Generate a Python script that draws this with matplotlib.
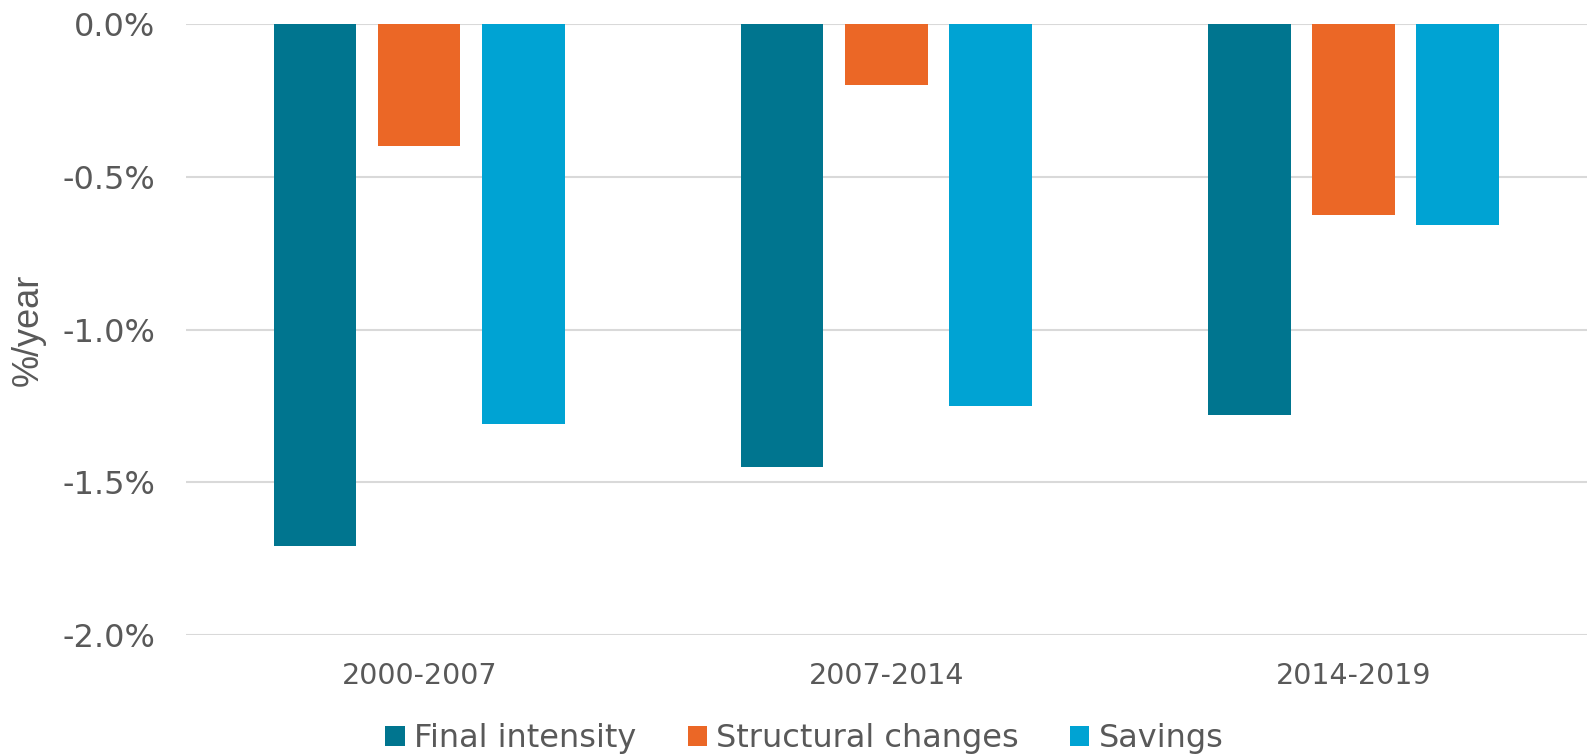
import numpy as np
import matplotlib.pyplot as plt
from matplotlib.ticker import FuncFormatter

plt.rcParams['font.family'] = ['DejaVu Sans']

# data (%/year)
periods = ['2000-2007', '2007-2014', '2014-2019']
final_intensity = [-1.71, -1.45, -1.28]
structural_changes = [-0.40, -0.20, -0.625]
savings = [-1.31, -1.25, -0.658]

series_names = ['Final intensity', 'Structural changes', 'Savings']
colors = ['#00758F', '#EB6726', '#00A3D3']

fig = plt.figure(figsize=(15.87, 7.56), dpi=100)
ax = fig.add_axes([0.1172, 0.1607, 0.8828, 0.8069])

x = np.arange(len(periods))
width = 0.1756
step = 0.2227
for i, (vals, name, col) in enumerate(zip([final_intensity, structural_changes, savings], series_names, colors)):
    ax.bar(x + (i - 1) * step, vals, width, color=col, label=name, zorder=3)

ax.set_xlim(-0.5, 2.5)
ax.set_ylim(-2.0, 0.0)
ax.set_yticks([0.0, -0.5, -1.0, -1.5, -2.0])
ax.yaxis.set_major_formatter(FuncFormatter(lambda v, p: '{:.1f}%'.format(v)))
ax.set_xticks(x)
ax.set_xticklabels(periods)

ax.grid(axis='y', color='#D9D9D9', linewidth=1.5, zorder=0)
for s in ax.spines.values():
    s.set_visible(False)
ax.tick_params(axis='both', length=0, colors='#595959')
ax.tick_params(axis='y', labelsize=23, pad=22)
ax.tick_params(axis='x', labelsize=20.5, pad=20)
ax.set_ylabel('%/year', fontsize=26, color='#595959', family='Liberation Sans')
ax.yaxis.set_label_coords(-0.1, 0.5)

leg = fig.legend(loc='center', bbox_to_anchor=(0.507, 0.0225), ncol=3, frameon=False,
                 fontsize=23, handlelength=0.6, handleheight=0.6, handletextpad=0.3,
                 columnspacing=1.6, labelcolor='#595959')

fig.savefig('out.png', dpi=100)
